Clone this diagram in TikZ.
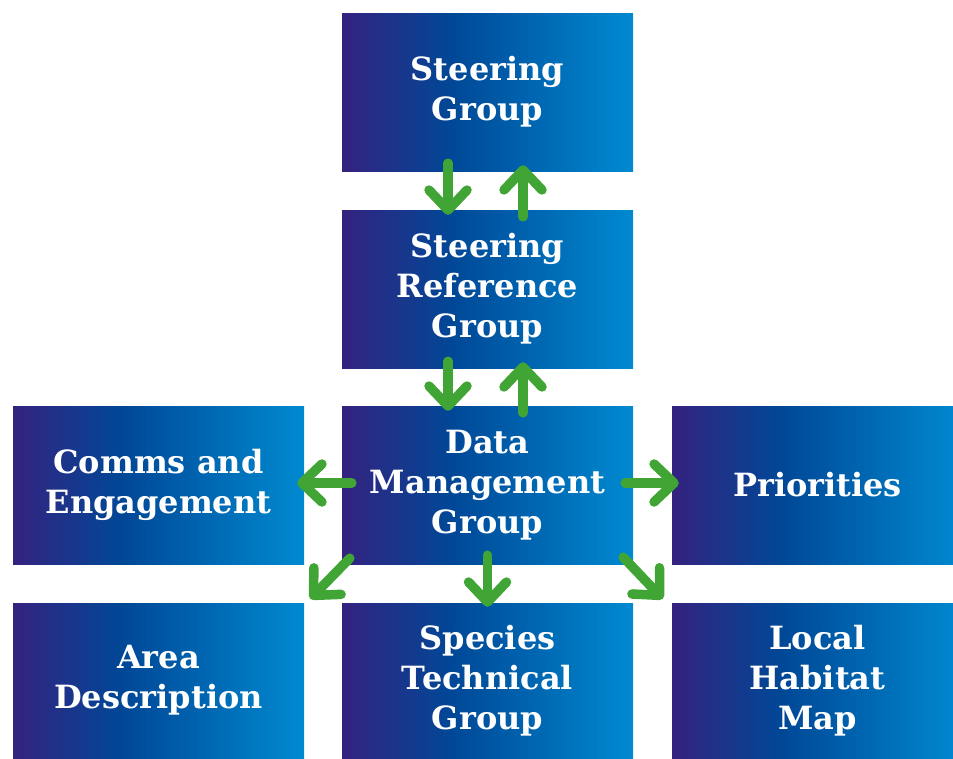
\documentclass[tikz,border=0pt]{standalone}
\usepackage{fontspec}
\setmainfont{DejaVu Serif}
\usetikzlibrary{positioning, arrows.meta}
\definecolor{boxpurple}{HTML}{34227F}
\definecolor{boxnavy}{HTML}{004897}
\definecolor{boxsky}{HTML}{008AD1}
\definecolor{arrowgreen}{HTML}{41A536}
\pgfdeclarehorizontalshading{boxfade}{100bp}{color(0bp)=(boxpurple); color(25bp)=(boxpurple); color(44bp)=(boxnavy); color(75bp)=(boxsky); color(100bp)=(boxsky)}
\tikzset{
  unit/.style={rectangle, shade, shading=boxfade, minimum width=291pt, minimum height=158pt,
    inner sep=0pt, text=white, align=center, font=\bfseries\fontsize{32}{40}\selectfont},
  flow/.style={draw=arrowgreen, line width=9.5pt, line cap=round,
    -{Straight Barb[round, length=20pt, width=38pt]}}
}
\begin{document}
\begin{tikzpicture}[x=1pt, y=1pt, node distance=196pt, on grid]
  \useasboundingbox (0,0) rectangle (953,-758);

  \node[unit] (steer) at (487.5,-92) {Steering\\Group};
  \node[unit] (ref)   [below=197pt of steer] {Steering\\Reference\\Group};
  \node[unit] (data)  [below=of ref] {Data\\Management\\Group};
  \node[unit] (comms) [left=329pt of data] {Comms and\\Engagement};
  \node[unit] (prio) [right=330pt of data] {Priorities};
  \node[unit, minimum height=155pt] (species) [below=195.5pt of data] {Species\\Technical\\Group};
  \node[unit, minimum height=155pt] (area) [below=195.5pt of comms] {Area\\Description};
  \node[unit, minimum height=155pt] (local) [below=195.5pt of prio] {Local\\Habitat\\Map};

  \draw[flow] ([shift={(-39.5,8)}]steer.south) -- ([shift={(-39.5,-5)}]ref.north);
  \draw[flow] ([shift={(35.5,-7)}]ref.north) -- ([shift={(35.5,6)}]steer.south);
  \draw[flow] ([shift={(-39.5,7)}]ref.south) -- ([shift={(-39.5,-5)}]data.north);
  \draw[flow] ([shift={(35.5,-7)}]data.north) -- ([shift={(35.5,6)}]ref.south);

  \draw[flow] ([shift={(10,2)}]data.west) -- ([shift={(-7,2)}]comms.east);
  \draw[flow] ([shift={(-8,2)}]data.east) -- ([shift={(7,2)}]prio.west);
  \draw[flow] ([shift={(8,6)}]data.south west) -- ([shift={(6,4)}]area.north east);
  \draw[flow] ([yshift=9]data.south) -- ([yshift=-4]species.north);
  \draw[flow] ([shift={(-10,7)}]data.south east) -- ([shift={(-9,4)}]local.north west);
\end{tikzpicture}
\end{document}
